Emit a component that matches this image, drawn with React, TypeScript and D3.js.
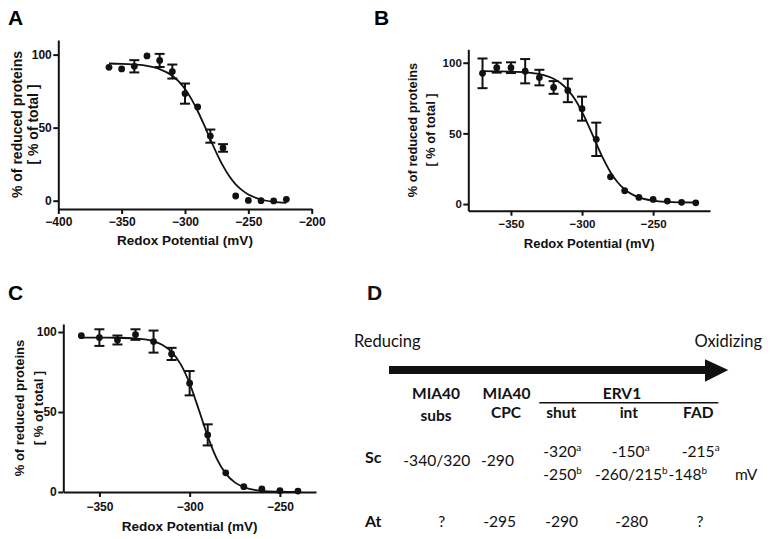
import { useEffect, useRef } from "react";
import * as d3 from "d3";

// ---- Panel A : data (mV, % reduced, SEM) ----
const A_X = [-360, -350, -340, -330, -320, -310, -300, -290, -280, -270, -260, -250, -240, -230, -220];
const A_Y = [91.3, 90.2, 92, 99.1, 96, 88.4, 73.3, 64.2, 44.2, 36.1, 3.2, 0.2, 0, -0.2, 0.9];
const A_ERR = [0, 0, 4.2, 0, 4.5, 4.8, 6.9, 0, 4.5, 2.6, 0, 0, 0, 0, 0];
// fitted curve
const A_FIT_X = [-360, -350, -340, -330, -320, -310, -305, -300, -295, -290, -285, -280, -275, -270, -265, -260, -255, -250, -240, -230, -220];
const A_FIT_Y = [93.9, 93.7, 93.2, 92.3, 90.1, 85.5, 81.7, 76.5, 69.7, 61.4, 52, 42, 32.4, 23.8, 16.7, 11.2, 7.2, 4.2, 0.8, -0.8, -1.5];

// ---- Panel B ----
const B_X = [-370, -360, -350, -340, -330, -320, -310, -300, -290, -280, -270, -260, -250, -240, -230, -220];
const B_Y = [92.5, 96.5, 96.5, 94, 89.5, 82.5, 80.4, 67.5, 45.8, 19.3, 9.4, 4.7, 3.3, 2.1, 1.2, 0.9];
const B_ERR = [10.5, 3.5, 3.8, 8.6, 5.5, 4.5, 8.3, 8.5, 11.8, 0, 0, 0, 0, 0, 0, 0];
const B_FIT_X = [-370, -360, -350, -340, -330, -320, -315, -310, -305, -300, -295, -290, -285, -280, -275, -270, -260, -250, -240, -230, -220];
const B_FIT_Y = [94, 93.9, 93.7, 93.2, 92, 88.7, 85.5, 80.8, 74.1, 65.2, 54.4, 42.9, 31.9, 22.5, 15.4, 10.3, 4.7, 2.4, 1.5, 1.2, 1.1];

// ---- Panel C ----
const C_X = [-360, -350, -340, -330, -320, -310, -300, -290, -280, -270, -260, -250, -240];
const C_Y = [97.7, 96.5, 95, 98.4, 94, 86.3, 68, 35.7, 12, 3.3, 1.9, 0.8, 0.6];
const C_ERR = [0, 5.2, 2.8, 3.3, 6.9, 3.8, 7.6, 6.6, 0, 0, 0, 0, 0];
const C_FIT_X = [-360, -350, -340, -330, -320, -315, -310, -305, -300, -295, -290, -285, -280, -275, -270, -260, -250, -240];
const C_FIT_Y = [96.5, 96.5, 96.4, 95.9, 94.2, 91.9, 87.6, 79.9, 67.8, 51.7, 34.8, 20.9, 11.5, 6, 3, 0.7, 0.2, 0];

const Y_TICKS = [0, 50, 100];
const X_TICKS_A = [-400, -350, -300, -250, -200];
const X_TICKS_BC = [-350, -300, -250];

// ---- Panel D : table ----
const D_HEADERS = ["MIA40", "MIA40", "ERV1"];
const D_SUBHEADERS = ["subs", "CPC", "shut", "int", "FAD"];
const D_SC_MAIN = ["-340/320", "-290"];
const D_SC_A = ["-320", "-150", "-215"];
const D_SC_B = ["-250", "-260/215", "-148"];
const D_AT = ["?", "-295", "-290", "-280", "?"];

interface PanelCfg {
  letter: string;
  letterX: number;
  letterY: number;
  xs: number[];
  ys: number[];
  errs: number[];
  fitX: number[];
  fitY: number[];
  xDomain: [number, number];
  yDomain: [number, number];
  xTicks: number[];
  left: number;
  right: number;
  top: number;
  bottom: number;
  xPad: number;
  tickFont: number;
  labelFont: number;
  yLabFont: number;
  xLabY: number;
  yLab1: number;
  yLab2: number;
}

const PANELS: PanelCfg[] = [
  {
    letter: "A", letterX: 8, letterY: 25,
    xs: A_X, ys: A_Y, errs: A_ERR, fitX: A_FIT_X, fitY: A_FIT_Y,
    xDomain: [-400, -200], yDomain: [-5.7, 110], xTicks: X_TICKS_A,
    left: 58.3, right: 311.7, top: 40, bottom: 209,
    xPad: 3.5, tickFont: 12, labelFont: 13.5, yLabFont: 14, xLabY: 245, yLab1: 21.7, yLab2: 38.3,
  },
  {
    letter: "B", letterX: 374, letterY: 25,
    xs: B_X, ys: B_Y, errs: B_ERR, fitX: B_FIT_X, fitY: B_FIT_Y,
    xDomain: [-380, -210], yDomain: [-4.7, 109.5], xTicks: X_TICKS_BC,
    left: 468.3, right: 710, top: 49.3, bottom: 210.7,
    xPad: 4, tickFont: 11.5, labelFont: 13, yLabFont: 12.8, xLabY: 247.5, yLab1: 416.5, yLab2: 434.5,
  },
  {
    letter: "C", letterX: 8, letterY: 300,
    xs: C_X, ys: C_Y, errs: C_ERR, fitX: C_FIT_X, fitY: C_FIT_Y,
    xDomain: [-370, -230], yDomain: [0, 105], xTicks: X_TICKS_BC,
    left: 63.3, right: 316, top: 324, bottom: 492,
    xPad: 5.5, tickFont: 12, labelFont: 13.5, yLabFont: 13, xLabY: 531, yLab1: 24, yLab2: 43,
  },
];

const AXIS_FONT = "'Liberation Sans', Arial, sans-serif";
const D_FONT = "Lato, 'Open Sans', sans-serif";

function drawPanel(svg: d3.Selection<SVGSVGElement, unknown, null, undefined>, p: PanelCfg) {
  const x = d3.scaleLinear().domain(p.xDomain).range([p.left, p.right]);
  const y = d3.scaleLinear().domain(p.yDomain).range([p.bottom, p.top]);
  const g = svg.append("g");

  // Axe X
  const gx = g
    .append("g")
    .attr("transform", `translate(0,${p.bottom})`)
    .call(d3.axisBottom(x).tickValues(p.xTicks).tickSize(5).tickSizeOuter(0).tickPadding(p.xPad).tickFormat(d3.format("d")));
  // Axe Y
  const gy = g
    .append("g")
    .attr("transform", `translate(${p.left},0)`)
    .call(d3.axisLeft(y).tickValues(Y_TICKS).tickSize(5).tickSizeOuter(0).tickPadding(1.5).tickFormat(d3.format("d")));

  [gx, gy].forEach((ax) => {
    ax.select(".domain").attr("stroke", "#111").attr("stroke-width", 2);
    ax.selectAll(".tick line").attr("stroke", "#111").attr("stroke-width", 2);
    ax.selectAll("text")
      .attr("fill", "#111")
      .style("font-family", AXIS_FONT)
      .style("font-weight", "bold")
      .style("font-size", `${p.tickFont}px`);
  });

  // Courbe ajustée
  const line = d3
    .line<number>()
    .x((d) => x(d))
    .y((_, i) => y(p.fitY[i]))
    .curve(d3.curveMonotoneX);
  g.append("path")
    .attr("d", line(p.fitX) || "")
    .attr("fill", "none")
    .attr("stroke", "#111")
    .attr("stroke-width", 1.8);

  // Barres d'erreur
  p.xs.forEach((v, i) => {
    const e = p.errs[i];
    if (!e) return;
    const cx = x(v);
    const y1 = y(p.ys[i] + e);
    const y2 = y(p.ys[i] - e);
    const eg = g.append("g").attr("stroke", "#111").attr("stroke-width", 2);
    eg.append("line").attr("x1", cx).attr("x2", cx).attr("y1", y1).attr("y2", y2);
    eg.append("line").attr("x1", cx - 5).attr("x2", cx + 5).attr("y1", y1).attr("y2", y1);
    eg.append("line").attr("x1", cx - 5).attr("x2", cx + 5).attr("y1", y2).attr("y2", y2);
  });

  // Points
  g.selectAll(".dot")
    .data(p.xs)
    .enter()
    .append("circle")
    .attr("cx", (d) => x(d))
    .attr("cy", (_, i) => y(p.ys[i]))
    .attr("r", 3.4)
    .attr("fill", "#111");

  // Titres d'axes
  g.append("text")
    .attr("x", (p.left + p.right) / 2)
    .attr("y", p.xLabY)
    .attr("text-anchor", "middle")
    .style("font-family", AXIS_FONT)
    .style("font-weight", "bold")
    .style("font-size", `${p.labelFont}px`)
    .attr("fill", "#111")
    .text("Redox Potential (mV)");

  const cy = (p.top + p.bottom) / 2;
  [
    { t: "% of reduced proteins", bx: p.yLab1 },
    { t: "[ % of total ]", bx: p.yLab2 },
  ].forEach((l) => {
    g.append("text")
      .attr("transform", `translate(${l.bx},${cy}) rotate(-90)`)
      .attr("text-anchor", "middle")
      .style("font-family", AXIS_FONT)
      .style("font-weight", "bold")
      .style("font-size", `${p.yLabFont}px`)
      .attr("fill", "#111")
      .text(l.t);
  });

  // Lettre du panneau
  svg.append("text")
    .attr("x", p.letterX)
    .attr("y", p.letterY)
    .style("font-family", AXIS_FONT)
    .style("font-weight", "bold")
    .style("font-size", "21px")
    .text(p.letter);
}

function drawTable(svg: d3.Selection<SVGSVGElement, unknown, null, undefined>) {
  const g = svg.append("g").attr("fill", "#111").style("font-family", D_FONT);

  g.append("text").attr("x", 367).attr("y", 300).style("font-family", AXIS_FONT)
    .style("font-weight", "bold").style("font-size", "21px").text("D");

  const txt = (x: number, y: number, s: string, opts: { bold?: boolean; size?: number; anchor?: string } = {}) =>
    g.append("text")
      .attr("x", x)
      .attr("y", y)
      .attr("text-anchor", opts.anchor || "start")
      .style("font-weight", opts.bold ? "bold" : "normal")
      .style("font-size", `${opts.size || 15.6}px`)
      .text(s);

  txt(354, 346.5, "Reducing", { size: 16.5 });
  txt(762, 346.5, "Oxidizing", { anchor: "end", size: 16.5 });

  // Flèche
  g.append("rect").attr("x", 389).attr("y", 366).attr("width", 318).attr("height", 8);
  g.append("path").attr("d", "M705,359.3 L728.3,370 L705,381.7 Z");

  // En-têtes
  const hx = [436, 506.5, 622];
  D_HEADERS.forEach((h, i) => txt(hx[i], 398.5, h, { bold: true, size: 15.5, anchor: "middle" }));
  g.append("line").attr("x1", 539.3).attr("x2", 718.3).attr("y1", 402.7).attr("y2", 402.7)
    .attr("stroke", "#111").attr("stroke-width", 1.6);
  const sx = [436, 506, 561.3, 628.8, 698.3];
  const sy = [420.5, 418, 418, 418, 418];
  D_SUBHEADERS.forEach((h, i) => txt(sx[i], sy[i], h, { bold: true, size: 15.5, anchor: "middle" }));

  // Lignes Sc / At
  txt(365, 463.3, "Sc", { bold: true, size: 16 });
  txt(365, 526.7, "At", { bold: true, size: 16 });

  const mx = [403.3, 481];
  D_SC_MAIN.forEach((s, i) => txt(mx[i], 466, s));

  const sup = (x: number, y: number, s: string, mark: string) => {
    const t = txt(x, y, s);
    t.append("tspan").attr("dy", -6).style("font-size", "10px").text(mark);
  };
  const ax = [543.3, 611.7, 681.7];
  D_SC_A.forEach((s, i) => sup(ax[i], 456.7, s, "a"));
  const bx = [543.3, 595, 668.5];
  D_SC_B.forEach((s, i) => sup(bx[i], 480, s, "b"));
  txt(735, 480, "mV");

  const atx = [441.7, 499.7, 561.7, 631.7, 700];
  D_AT.forEach((s, i) => txt(atx[i], 526.7, s, { anchor: "middle" }));
}

export default function App() {
  const svgRef = useRef<SVGSVGElement>(null);

  useEffect(() => {
    if (!svgRef.current) return;
    const svg = d3.select(svgRef.current);
    svg.selectAll("*").remove();
    PANELS.forEach((p) => drawPanel(svg, p));
    drawTable(svg);
  }, []);

  return (
    <svg
      ref={svgRef}
      width={771}
      height={539}
      style={{ position: "absolute", left: 0, top: 0, background: "#fff" }}
    />
  );
}
